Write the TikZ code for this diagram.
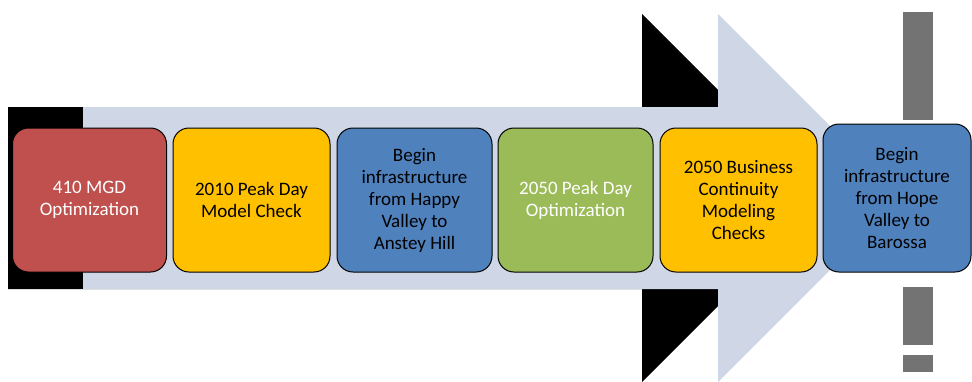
\documentclass[tikz,border=0pt]{standalone}
\usepackage{fontspec}
\setmainfont{Carlito}
\usetikzlibrary{patterns}
\definecolor{arrowfill}{HTML}{CFD6E6}
\definecolor{stagered}{HTML}{C0504D}
\definecolor{stageyellow}{HTML}{FFC000}
\definecolor{stageblue}{HTML}{4F81BD}
\definecolor{stagegreen}{HTML}{9BBB59}
\begin{document}
\begin{tikzpicture}[x=1pt,y=-1pt,
  stage/.style={draw=black, line width=1pt, rounded corners=16pt,
    minimum width=154pt, minimum height=144pt, inner sep=0pt,
    align=center, font=\fontsize{19}{22}\selectfont},
  noise/.style={fill=black!55, draw=none}]
  \useasboundingbox (0,0) rectangle (972,381);
  % shadow of the arrow, shifted left
  \fill[black] (8,107) -- (642,107) -- (642,14) -- (826,198) -- (642,382)
    -- (642,289) -- (8,289) -- cycle;
  % main arrow
  \fill[arrowfill] (83,107) -- (718,107) -- (718,14) -- (902,198) -- (718,382)
    -- (718,289) -- (83,289) -- cycle;
  % stages
  \node[stage, fill=stagered, text=white] (s1) at (89.5,200) {410 MGD\\Optimization};
  \node[stage, fill=stageyellow, minimum width=157pt] (s2) at (251.5,200) {2010 Peak Day\\Model Check};
  \node[stage, fill=stageblue, minimum width=155pt] (s3) at (414.5,200) {Begin\\infrastructure\\from Happy\\Valley to\\Anstey Hill};
  \node[stage, fill=stagegreen, text=white, minimum width=155pt] (s4) at (575.5,200) {2050 Peak Day\\Optimization};
  \node[stage, fill=stageyellow, minimum width=157pt] (s5) at (738.5,200) {2050 Business\\Continuity\\Modeling\\Checks};
  \node[stage, fill=stageblue, minimum width=148pt, minimum height=148pt] (s6) at (897,198) {Begin\\infrastructure\\from Hope\\Valley to\\Barossa};
  % unreadable vertical marks at the right
  \fill[noise] (903,12) rectangle (933,120);
  \fill[noise] (903,287) rectangle (933,345);
  \fill[noise] (903,355) rectangle (933,372);
\end{tikzpicture}
\end{document}
